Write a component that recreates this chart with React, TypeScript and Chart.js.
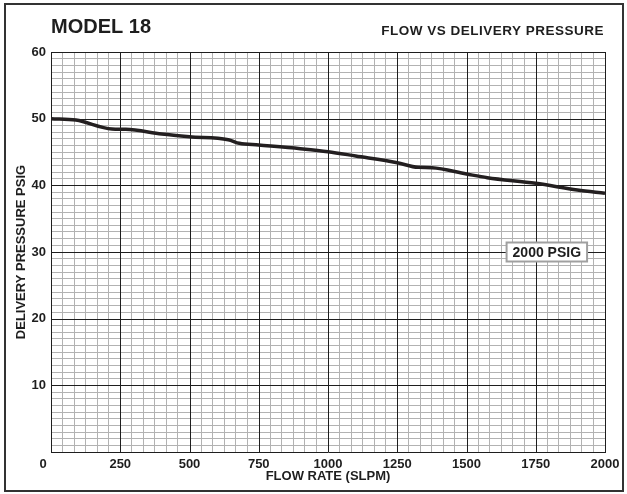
import React, { useEffect, useRef } from 'react';
import { Chart, registerables } from 'chart.js';

Chart.register(...registerables);

// ---- data ----
const FLOW_SLPM = [0, 90, 220, 270, 400, 500, 640, 680, 750, 900, 1000, 1100, 1250, 1325, 1375, 1500, 1575, 1750, 1900, 2000];
const PRESSURE_PSIG = [50.0, 49.8, 48.45, 48.4, 47.7, 47.3, 46.85, 46.3, 46.05, 45.5, 45.05, 44.4, 43.4, 42.7, 42.65, 41.7, 41.15, 40.3, 39.3, 38.8];

const X_MIN = 0;
const X_MAX = 2000;
const X_MAJOR = 250;
const X_MINOR_PER_MAJOR = 6;
const Y_MIN = 0;
const Y_MAX = 60;
const Y_MAJOR = 10;
const Y_MINOR_PER_MAJOR = 10;

const TITLE = 'MODEL 18';
const SUBTITLE = 'FLOW VS DELIVERY PRESSURE';
const X_TITLE = 'FLOW RATE (SLPM)';
const Y_TITLE = 'DELIVERY PRESSURE PSIG';
const CURVE_LABEL = '2000 PSIG';
const CURVE_LABEL_AT = { x: 1790, y: 30 };

const FONT = "'Liberation Sans', Arial, Helvetica, sans-serif";
const INK = '#1e1e1e';
const MINOR_GRID = '#b2b2b2';

const isMultiple = (v: number, step: number) => {
  const r = v / step;
  return Math.abs(r - Math.round(r)) < 1e-6;
};

const buildTicks = (min: number, max: number, step: number) => {
  const n = Math.round((max - min) / step);
  const out: { value: number }[] = [];
  for (let i = 0; i <= n; i++) out.push({ value: min + i * step });
  return out;
};

const decorPlugin = {
  id: 'decor',
  beforeDraw(chart: any) {
    const { ctx } = chart;
    ctx.save();
    ctx.fillStyle = '#ffffff';
    ctx.fillRect(0, 0, chart.width, chart.height);
    ctx.restore();
  },
  beforeDatasetsDraw(chart: any) {
    const { ctx, chartArea, scales } = chart;
    const xs = scales.x;
    const ys = scales.y;
    ctx.save();
    ctx.strokeStyle = INK;
    ctx.lineWidth = 1;
    ctx.beginPath();
    for (let v = X_MIN; v <= X_MAX + 1e-9; v += X_MAJOR) {
      const px = Math.round(xs.getPixelForValue(v)) + 0.5;
      ctx.moveTo(px, chartArea.top);
      ctx.lineTo(px, chartArea.bottom);
    }
    for (let v = Y_MIN; v <= Y_MAX + 1e-9; v += Y_MAJOR) {
      const py = Math.round(ys.getPixelForValue(v)) + 0.5;
      ctx.moveTo(chartArea.left, py);
      ctx.lineTo(chartArea.right + 1, py);
    }
    ctx.stroke();
    ctx.restore();
  },
  afterDatasetsDraw(chart: any) {
    const { ctx, chartArea, scales } = chart;
    ctx.save();
    // outer frame
    ctx.strokeStyle = '#333333';
    ctx.lineWidth = 2;
    ctx.strokeRect(5, 4, chart.width - 9, chart.height - 7);

    // titles
    ctx.fillStyle = INK;
    ctx.textBaseline = 'alphabetic';
    ctx.font = `bold 20px ${FONT}`;
    ctx.textAlign = 'left';
    ctx.fillText(TITLE, chartArea.left, 33);
    ctx.font = `bold 13.5px ${FONT}`;
    ctx.textAlign = 'right';
    try { (ctx as any).letterSpacing = '0.5px'; } catch (e) {}
    ctx.fillText(SUBTITLE, chartArea.right - 1, 35);
    try { (ctx as any).letterSpacing = '0px'; } catch (e) {}

    // origin "0" label
    ctx.font = `bold 13px ${FONT}`;
    ctx.textAlign = 'center';
    ctx.textBaseline = 'middle';
    ctx.fillText(String(X_MIN), chartArea.left - 8, chartArea.bottom + 12);

    // curve label box
    const cx = scales.x.getPixelForValue(CURVE_LABEL_AT.x);
    const cy = scales.y.getPixelForValue(CURVE_LABEL_AT.y);
    ctx.font = `bold 14px ${FONT}`;
    const w = ctx.measureText(CURVE_LABEL).width + 12;
    const h = 19;
    ctx.fillStyle = '#ffffff';
    ctx.fillRect(cx - w / 2, cy - h / 2, w, h);
    ctx.strokeStyle = '#a0a0a0';
    ctx.lineWidth = 2;
    ctx.strokeRect(cx - w / 2, cy - h / 2, w, h);
    ctx.fillStyle = INK;
    ctx.textAlign = 'center';
    ctx.textBaseline = 'middle';
    ctx.fillText(CURVE_LABEL, cx, cy + 1);
    ctx.restore();
  },
};

export default function App() {
  const ref = useRef<HTMLCanvasElement>(null);

  useEffect(() => {
    document.body.style.margin = '0';
    const canvas = ref.current;
    if (!canvas) return;
    const points = FLOW_SLPM.map((x, i) => ({ x, y: PRESSURE_PSIG[i] }));
    const xStep = X_MAJOR / X_MINOR_PER_MAJOR;
    const yStep = Y_MAJOR / Y_MINOR_PER_MAJOR;

    const chart = new Chart(canvas, {
      type: 'scatter',
      data: {
        datasets: [
          {
            data: points,
            showLine: true,
            borderColor: '#231f20',
            borderWidth: 3.5,
            pointRadius: 0,
            cubicInterpolationMode: 'monotone',
            fill: false,
          } as any,
        ],
      },
      options: {
        animation: false,
        responsive: false,
        events: [],
        layout: { padding: { left: 0, top: 52, right: 22, bottom: 0 } },
        plugins: {
          legend: { display: false },
          tooltip: { enabled: false },
          title: { display: false },
        },
        scales: {
          x: {
            type: 'linear',
            min: X_MIN,
            max: X_MAX,
            afterBuildTicks: (scale: any) => {
              scale.ticks = buildTicks(X_MIN, X_MAX, xStep);
            },
            afterFit: (scale: any) => {
              scale.height = 42;
            },
            ticks: {
              autoSkip: false,
              maxRotation: 0,
              minRotation: 0,
              padding: 5,
              color: INK,
              font: { family: FONT, size: 13, weight: 'bold' },
              callback: (value: any) => {
                const v = Number(value);
                if (v === X_MIN) return '';
                return isMultiple(v, X_MAJOR) ? String(Math.round(v)) : '';
              },
            },
            grid: {
              drawTicks: false,
              lineWidth: 1,
              color: (c: any) => {
                const v = c.tick ? c.tick.value : 0;
                return isMultiple(v, X_MAJOR) ? 'rgba(0,0,0,0)' : MINOR_GRID;
              },
            },
            border: { display: false },
            title: {
              display: true,
              text: X_TITLE,
              color: INK,
              font: { family: FONT, size: 13, weight: 'bold' },
              padding: { top: 0, bottom: 10 },
            },
          },
          y: {
            type: 'linear',
            min: Y_MIN,
            max: Y_MAX,
            afterBuildTicks: (scale: any) => {
              scale.ticks = buildTicks(Y_MIN, Y_MAX, yStep);
            },
            afterFit: (scale: any) => {
              scale.width = 51;
            },
            ticks: {
              autoSkip: false,
              padding: 5,
              color: INK,
              font: { family: FONT, size: 13, weight: 'bold' },
              callback: (value: any) => {
                const v = Number(value);
                if (v === Y_MIN) return '';
                return isMultiple(v, Y_MAJOR) ? String(Math.round(v)) : '';
              },
            },
            grid: {
              drawTicks: false,
              lineWidth: 1,
              color: (c: any) => {
                const v = c.tick ? c.tick.value : 0;
                return isMultiple(v, Y_MAJOR) ? 'rgba(0,0,0,0)' : MINOR_GRID;
              },
            },
            border: { display: false },
            title: {
              display: true,
              text: Y_TITLE,
              color: INK,
              font: { family: FONT, size: 13, weight: 'bold' },
              padding: { top: 14, bottom: 0 },
            },
          },
        },
      } as any,
      plugins: [decorPlugin],
    });

    return () => chart.destroy();
  }, []);

  return (
    <div style={{ position: 'absolute', left: 0, top: 0, width: 627, height: 494, background: '#fff' }}>
      <canvas ref={ref} width={627} height={494} style={{ display: 'block', width: 627, height: 494 }} />
    </div>
  );
}
